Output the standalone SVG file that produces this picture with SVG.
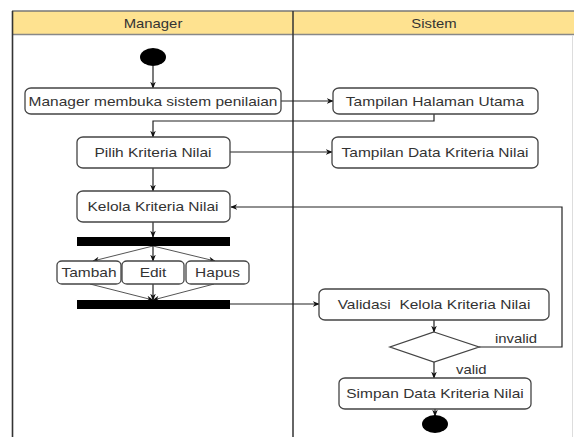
<svg xmlns="http://www.w3.org/2000/svg" width="574" height="437" viewBox="0 0 574 437">
  <style>
    .lane-head { fill: #fee290; }
    .frame { fill: none; stroke: #333; stroke-width: 1.5; }
    .act { fill: #fff; stroke: #444; stroke-width: 1.3; }
    .bar { fill: #000; }
    .dot { fill: #000; }
    .lbl { font-family: "Liberation Sans", Arial, sans-serif; font-size: 12.5px; fill: #333; text-anchor: middle; }
    .head { font-family: "Liberation Sans", Arial, sans-serif; font-size: 12px; fill: #333; text-anchor: middle; }
    .guard { font-family: "Liberation Sans", Arial, sans-serif; font-size: 12px; fill: #333; }
    .flow { fill: none; stroke: #222; stroke-width: 1.2; marker-end: url(#arr); }
    .branch { fill: none; stroke: #555; stroke-width: 1; marker-end: url(#arr); }
  </style>
  <defs>
    <marker id="arr" viewBox="0 0 10 10" refX="9" refY="5" markerWidth="7" markerHeight="7" markerUnits="userSpaceOnUse" orient="auto">
      <path d="M0,1 L10,5 L0,9 L3,5 Z" fill="#111"/>
    </marker>
  </defs>

  <rect width="574" height="437" fill="#fff"/>

  <!-- swimlanes -->
  <g id="lanes">
    <rect class="lane-head" x="12" y="11" width="562" height="23.5"/>
    <line x1="12" y1="34.5" x2="574" y2="34.5" stroke="#888" stroke-width="1.3"/>
    <line x1="12" y1="11" x2="574" y2="11" stroke="#777" stroke-width="1.3"/>
    <line x1="12.5" y1="11" x2="12.5" y2="437" stroke="#333" stroke-width="1.6"/>
    <line x1="293" y1="11" x2="293" y2="437" stroke="#333" stroke-width="1.5"/>
    <line x1="572.5" y1="35" x2="572.5" y2="437" stroke="#ddd" stroke-width="1"/>
    <text class="head" transform="translate(153,28) scale(1.24,1)">Manager</text>
    <text class="head" transform="translate(434,28) scale(1.24,1)">Sistem</text>
  </g>

  <!-- connectors -->
  <g id="connectors">
    <path class="flow" d="M153,66 V88"/>
    <path class="flow" d="M281,101 H333"/>
    <path class="flow" d="M434,114 V121 H153 V137"/>
    <path class="flow" d="M230,152 H332"/>
    <path class="flow" d="M153,168 V191"/>
    <path class="flow" d="M153,222 V237"/>
    <path class="branch" d="M153,246 L93,261"/>
    <path class="flow" d="M153,246 V261"/>
    <path class="branch" d="M153,246 L215,261"/>
    <path class="branch" d="M90,284 L153,300"/>
    <path class="flow" d="M153,284 V300"/>
    <path class="branch" d="M214,284 L153,300"/>
    <path class="flow" d="M230,304 H319"/>
    <path class="flow" d="M434,320 V332"/>
    <path class="flow" d="M479,347 H562 V207 H231"/>
    <path class="flow" d="M434,362 V378"/>
    <path class="flow" d="M435,409 V416"/>
  </g>

  <g id="start">
    <ellipse class="dot" cx="153" cy="57" rx="13" ry="9"/>
  </g>

  <g id="open-system">
    <rect class="act" x="25" y="88" width="256" height="26" rx="6" ry="5"/>
    <text class="lbl" transform="translate(153,105.5) scale(1.24,1)">Manager membuka sistem penilaian</text>
  </g>

  <g id="main-page">
    <rect class="act" x="333" y="88" width="205" height="26" rx="6" ry="5"/>
    <text class="lbl" transform="translate(435,105.5) scale(1.24,1)">Tampilan Halaman Utama</text>
  </g>

  <g id="choose-criteria">
    <rect class="act" x="77" y="137" width="153" height="31" rx="6" ry="5"/>
    <text class="lbl" transform="translate(153,157) scale(1.24,1)">Pilih Kriteria Nilai</text>
  </g>

  <g id="criteria-data">
    <rect class="act" x="332" y="137" width="206" height="31" rx="6" ry="5"/>
    <text class="lbl" transform="translate(435,157) scale(1.24,1)">Tampilan Data Kriteria Nilai</text>
  </g>

  <g id="manage-criteria">
    <rect class="act" x="77" y="191" width="153" height="31" rx="6" ry="5"/>
    <text class="lbl" transform="translate(153,211) scale(1.24,1)">Kelola Kriteria Nilai</text>
  </g>

  <g id="fork">
    <rect class="bar" x="77" y="237" width="153" height="9"/>
  </g>

  <g id="add">
    <rect class="act" x="57" y="261" width="64" height="23" rx="5" ry="4"/>
    <text class="lbl" transform="translate(89,277) scale(1.24,1)">Tambah</text>
  </g>

  <g id="edit">
    <rect class="act" x="122" y="261" width="62" height="23" rx="5" ry="4"/>
    <text class="lbl" transform="translate(153,277) scale(1.24,1)">Edit</text>
  </g>

  <g id="delete">
    <rect class="act" x="186" y="261" width="63" height="23" rx="5" ry="4"/>
    <text class="lbl" transform="translate(217.5,277) scale(1.24,1)">Hapus</text>
  </g>

  <g id="join">
    <rect class="bar" x="77" y="300" width="153" height="9"/>
  </g>

  <g id="validate">
    <rect class="act" x="319" y="289" width="230" height="31" rx="6" ry="5"/>
    <text class="lbl" xml:space="preserve" transform="translate(434,309) scale(1.24,1)">Validasi  Kelola Kriteria Nilai</text>
  </g>

  <g id="decision">
    <polygon class="act" points="434,332 479,347 434,362 390,347"/>
    <text class="guard" transform="translate(495,343) scale(1.24,1)">invalid</text>
    <text class="guard" transform="translate(456,374) scale(1.24,1)">valid</text>
  </g>

  <g id="save">
    <rect class="act" x="339" y="378" width="192" height="31" rx="6" ry="5"/>
    <text class="lbl" transform="translate(435,398) scale(1.24,1)">Simpan Data Kriteria Nilai</text>
  </g>

  <g id="end">
    <ellipse class="dot" cx="435" cy="424" rx="13" ry="9"/>
  </g>
</svg>
